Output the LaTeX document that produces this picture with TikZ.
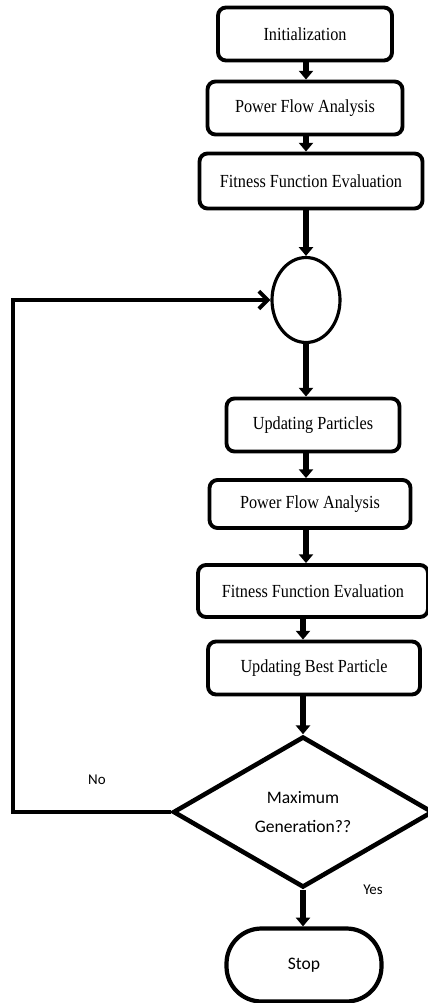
\documentclass[tikz,border=0pt]{standalone}
\usepackage{fontspec}
\setmainfont{Liberation Serif}
\newfontfamily\boxfont[FakeStretch=0.88]{Liberation Serif}
\newfontfamily\calibri{Carlito}
\usetikzlibrary{arrows.meta,shapes.geometric}

\begin{document}
\begin{tikzpicture}[x=0.02cm, y=-0.02cm,
    procbox/.style={draw, line width=2.2pt, rounded corners=0.16cm, fill=white,
      minimum height=1.06cm, inner sep=0pt, font=\boxfont\fontsize{10.5}{12}\selectfont},
    flow/.style={line width=3.2pt, -{Triangle[length=5pt, width=8pt]}},
    back/.style={line width=2.4pt, -{Straight Barb[length=5pt, width=10pt, line width=2.2pt]}},
    tag/.style={font=\calibri\fontsize{8.5}{9}\selectfont}]
    \useasboundingbox (0, 0) rectangle (428, 1003);
    % first pass
    \node [procbox, minimum width=3.48cm] (init) at (305, 34) {Initialization};
    \node [procbox, minimum width=3.9cm] (pfa) at (305, 108) {Power Flow Analysis};
    \node [procbox, minimum width=4.46cm, minimum height=1.1cm] (ffe) at (311, 181) {Fitness Function Evaluation};
    \node [draw, ellipse, line width=1.8pt, minimum width=1.36cm, minimum height=1.7cm] (join) at (306, 300) {};
    % loop body
    \node [procbox, minimum width=3.46cm] (upd) at (313, 425) {Updating Particles};
    \node [procbox, minimum width=4.02cm, minimum height=0.96cm] (pfb) at (310, 504) {Power Flow Analysis};
    \node [procbox, minimum width=4.6cm, minimum height=1.04cm] (ffb) at (313, 591) {Fitness Function Evaluation};
    \node [procbox, minimum width=4.24cm] (best) at (314, 668) {Updating Best Particle};
    \node [draw, diamond, aspect=1.72, line width=2.6pt, inner sep=0pt, minimum width=5.2cm,
      minimum height=3.02cm, align=center, font=\calibri\fontsize{10}{17}\selectfont]
      (maxgen) at (303, 812) {Maximum\\Generation??};
    \node [draw, line width=2.4pt, rounded corners=0.7cm, minimum width=3.1cm, minimum height=1.46cm,
      font=\calibri\fontsize{10}{12}\selectfont] (stop) at (304, 965) {Stop};
    \node [tag] (no) at (97, 780) {No};
    \node [tag] (yes) at (373, 890) {Yes};
    \coordinate (corner) at (13, 812);
    % connectors
    \draw [flow] (init.south -| join) -- (pfa.north -| join);
    \draw [flow] (pfa.south -| join) -- (ffe.north -| join);
    \draw [flow] (ffe.south -| join) -- (join.north);
    \draw [flow] (join.south) -- (upd.north -| join);
    \draw [flow] (upd.south -| join) -- (pfb.north -| join);
    \draw [flow] (pfb.south -| join) -- (ffb.north -| join);
    \draw [flow] (ffb.south -| maxgen) -- (best.north -| maxgen);
    \draw [flow] (best.south -| maxgen) -- (maxgen.north);
    \draw [flow] (maxgen.south) -- (stop.north -| maxgen);
    \draw [back] (maxgen.west) -- (corner) |- (join.west);
\end{tikzpicture}
\end{document}
